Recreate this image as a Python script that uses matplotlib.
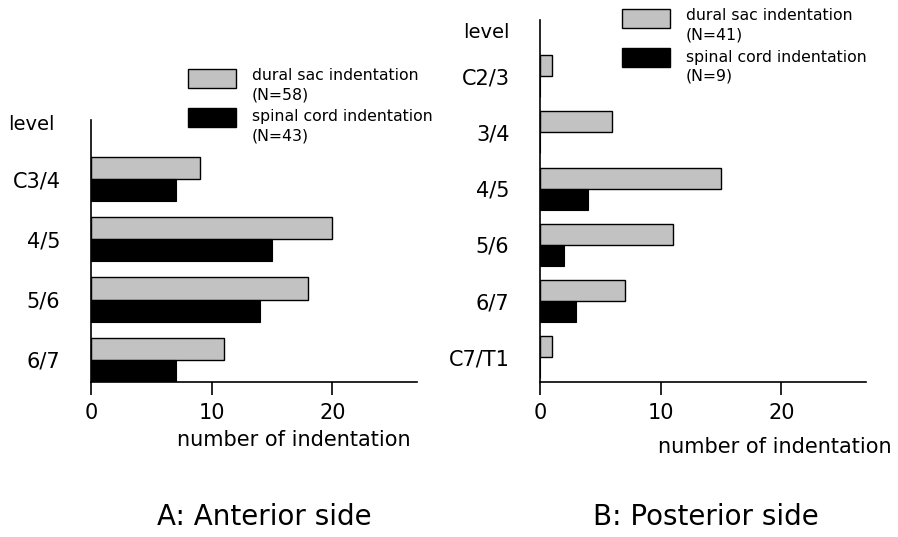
import matplotlib
matplotlib.use('Agg')
import matplotlib.pyplot as plt
from matplotlib.patches import Rectangle

plt.rcParams['font.family'] = ['DejaVu Sans']

# A: anterior side
levels_a = ['C3/4', '4/5', '5/6', '6/7']
dural_a = [9, 20, 18, 11]
cord_a = [7, 15, 14, 7]

# B: posterior side
levels_b = ['C2/3', '3/4', '4/5', '5/6', '6/7', 'C7/T1']
dural_b = [1, 6, 15, 11, 7, 1]
cord_b = [0, 0, 4, 2, 3, 0]

xticks = [0, 10, 20]
gray = '#c2c2c2'

fig = plt.figure(figsize=(8.98, 5.37), dpi=100)
ax_a = fig.add_axes([0.1013, 0.2886, 0.3631, 0.4879])
ax_b = fig.add_axes([0.6013, 0.2886, 0.3631, 0.6742])


def draw_panel(ax, levels, dural, cord, h, ytop, ybot, lab_xy):
    pos = list(range(len(levels)))
    ax.barh([p - h / 2 for p in pos], dural, height=h, color=gray,
            edgecolor='black', linewidth=1.0)
    ax.barh([p + h / 2 for p in pos], cord, height=h, color='black',
            edgecolor='black', linewidth=0.8)
    ax.set_yticks(pos)
    ax.set_yticklabels(levels, fontsize=15)
    ax.set_ylim(ybot, ytop)
    ax.set_xlim(0, 27)
    ax.set_xticks(xticks)
    ax.tick_params(axis='x', direction='out', length=9, width=1.2,
                   labelsize=15, pad=6)
    ax.tick_params(axis='y', length=0, pad=22)
    for s in ['top', 'right']:
        ax.spines[s].set_visible(False)
    for s in ['left', 'bottom']:
        ax.spines[s].set_linewidth(1.2)
    ax.set_xlabel('number of indentation', fontsize=15, ha='right', va='center')
    ax.xaxis.set_label_coords(*lab_xy)


draw_panel(ax_a, levels_a, dural_a, cord_a, 0.367, -0.98, 3.37, (0.979, -0.221))
draw_panel(ax_b, levels_b, dural_b, cord_b, 0.375, -1.0, 5.44, (1.08, -0.18))

W, H = 898, 537


def legend(x, y, n1, n2):
    # patches and labels in pixel positions from the top-left corner
    fig.patches.append(Rectangle((x / W, 1 - (y + 19) / H), 48 / W, 19 / H,
                                 transform=fig.transFigure, facecolor=gray,
                                 edgecolor='black', linewidth=1.0))
    fig.patches.append(Rectangle((x / W, 1 - (y + 58) / H), 48 / W, 19 / H,
                                 transform=fig.transFigure, facecolor='black',
                                 edgecolor='black', linewidth=1.0))
    tx = (x + 64) / W
    fig.text(tx, 1 - (y + 7) / H, 'dural sac indentation', fontsize=11.3, va='center')
    fig.text(tx, 1 - (y + 26) / H, '(N=%d)' % n1, fontsize=11.3, va='center')
    fig.text(tx, 1 - (y + 48) / H, 'spinal cord indentation', fontsize=11.3, va='center')
    fig.text(tx, 1 - (y + 67) / H, '(N=%d)' % n2, fontsize=11.3, va='center')


legend(188, 69, 58, 43)
legend(622, 9, 41, 9)

fig.text(8 / W, 1 - 125 / H, 'level', fontsize=14, va='center')
fig.text(463 / W, 1 - 33 / H, 'level', fontsize=14, va='center')

fig.text(0.294, 1 - 517 / H, 'A: Anterior side', fontsize=20, ha='center', va='center')
fig.text(0.786, 1 - 517 / H, 'B: Posterior side', fontsize=20, ha='center', va='center')

fig.savefig('out.png', dpi=100)
